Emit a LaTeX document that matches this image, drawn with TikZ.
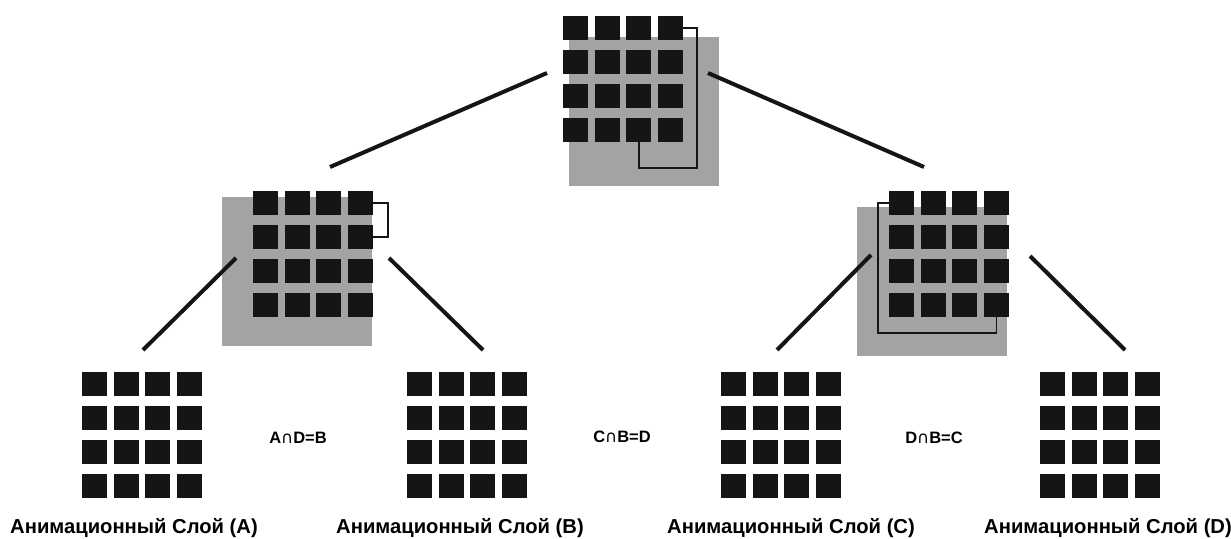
\documentclass[tikz,border=0pt]{standalone}
\usepackage{fontspec}
\setmainfont{Liberation Sans}
\newfontfamily\djv{DejaVu Sans}
\definecolor{sqc}{HTML}{151515}
\definecolor{bgc}{HTML}{A3A3A3}
\tikzset{
  sq/.style={fill=sqc,draw=none,minimum width=25pt,minimum height=24pt,inner sep=0pt,outer sep=0pt},
  bgbox/.style={fill=bgc,draw=none},
  link/.style={draw=sqc,line width=4pt},
  bracket/.style={draw=sqc,line width=1.3pt},
  layerlbl/.style={font=\bfseries\fontsize{20.2}{22}\selectfont,inner sep=0pt},
  formula/.style={font=\bfseries\fontsize{16.5}{18}\selectfont,inner sep=0pt}
}
\newcommand\sqgrid[3]{%
  \foreach \r in {1,...,4}{\foreach \c in {1,...,4}{%
    \node[sq] (#1-\r-\c) at ({#2+12.5+(\c-1)*31.7},{#3+12+(\r-1)*34}) {};}}}
\newcommand\isect{{\djv\mdseries ∩}}
\begin{document}
\begin{tikzpicture}[x=1pt,y=-1pt]
\useasboundingbox (0,0) rectangle (1231,538);
% gray backgrounds
\fill[bgbox] (569,37) rectangle (719,186);
\fill[bgbox] (222,197) rectangle (372,346);
\fill[bgbox] (857,207) rectangle (1007,356);
% grids
\sqgrid{T}{563}{16}
\sqgrid{L}{253}{191}
\sqgrid{R}{889}{191}
\sqgrid{A}{82}{372}
\sqgrid{B}{407}{372}
\sqgrid{C}{721}{372}
\sqgrid{D}{1040}{372}
% brackets
\draw[bracket] (T-1-4.east) -- ++(14,0) -- ++(0,140) -| (T-4-3.south);
\draw[bracket] (L-1-4.east) -- ++(15,0) |- (L-2-4.east);
\draw[bracket] (R-1-1.west) -- ++(-11,0) -- ++(0,130) -| (R-4-4.south);
% connector end points
\coordinate (t1) at (547,73);   \coordinate (l0) at (330,167);
\coordinate (t2) at (708,73);   \coordinate (r0) at (924,167);
\coordinate (l1) at (236,258);  \coordinate (a0) at (143,350);
\coordinate (l2) at (389,258);  \coordinate (b0) at (483,350);
\coordinate (r1) at (871,255);  \coordinate (c0) at (777,350);
\coordinate (r2) at (1030,256); \coordinate (d0) at (1125,350);
\draw[link] (t1) -- (l0);
\draw[link] (t2) -- (r0);
\draw[link] (l1) -- (a0);
\draw[link] (l2) -- (b0);
\draw[link] (r1) -- (c0);
\draw[link] (r2) -- (d0);
% formulas
\node[formula] (f1) at (298,438) {A\isect D=B};
\node[formula] (f2) at (622,437) {C\isect B=D};
\node[formula] (f3) at (934,438) {D\isect B=C};
% labels
\node[layerlbl] (la) at (134,528) {Анимационный Слой (A)};
\node[layerlbl] (lb) at (460,528) {Анимационный Слой (B)};
\node[layerlbl] (lc) at (791,528) {Анимационный Слой (C)};
\node[layerlbl] (ld) at (1108,528) {Анимационный Слой (D)};
\end{tikzpicture}
\end{document}
